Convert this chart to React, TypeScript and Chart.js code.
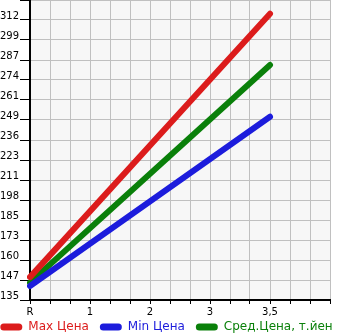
import React, { useEffect, useRef } from "react";
import { Chart, registerables } from "chart.js";

Chart.register(...registerables);

const xLabels = ["R", "", "", "1", "", "", "2", "", "", "3", "", "", "3,5", "", "", ""];
const pointCategories = ["R", "3,5"];
const maxPrice = [149, 316];
const minPrice = [143.4, 250.7];
const avgPrice = [145.5, 283.5];
const seriesNames = ["Max Цена", "Min Цена", "Сред.Цена, т.йен"];
const seriesColors = ["#dc1c1c", "#1c1cdc", "#0a800a"];
const yTickLabels = ["135", "147", "160", "173", "185", "198", "211", "223", "236", "249", "261", "274", "287", "299", "312", ""];
const yMin = 134.5;
const yStep = 12.68;

const plotBg = {
  id: "plotBg",
  beforeDraw(chart: any) {
    const { ctx, chartArea } = chart;
    ctx.save();
    ctx.fillStyle = "#f7f7f7";
    ctx.fillRect(chartArea.left, chartArea.top, chartArea.right - chartArea.left, chartArea.bottom - chartArea.top);
    ctx.restore();
  },
  afterLayout(chart: any) {
    // let the x tick labels extend below the (thin) x-axis box without clipping
    chart.scales.x.bottom = chart.height;
  },
};

export default function App() {
  const ref = useRef<HTMLCanvasElement>(null);
  useEffect(() => {
    const series = [maxPrice, minPrice, avgPrice];
    const chart = new Chart(ref.current!, {
      type: "line",
      data: {
        labels: xLabels,
        datasets: series.map((vals, i) => ({
          label: seriesNames[i],
          data: vals.map((v, j) => ({ x: pointCategories[j], y: v })),
          borderColor: seriesColors[i],
          backgroundColor: seriesColors[i],
          borderWidth: 6,
          borderCapStyle: "round" as const,
          pointRadius: 0,
          pointHoverRadius: 0,
          tension: 0,
        })),
      },
      options: {
        animation: false,
        responsive: true,
        maintainAspectRatio: false,
        layout: { padding: { left: -12, right: 0, top: 0, bottom: 0 } },
        plugins: {
          tooltip: { enabled: false },
          legend: {
            position: "bottom",
            maxHeight: 25,
            labels: {
              boxWidth: 22,
              boxHeight: 7,
              padding: 11,
              font: { family: "DejaVu Sans", size: 12 },
              generateLabels: (c: any) =>
                c.data.datasets.map((d: any, i: number) => ({
                  text: d.label,
                  fillStyle: seriesColors[i],
                  strokeStyle: seriesColors[i],
                  lineWidth: 0,
                  fontColor: seriesColors[i],
                  borderRadius: 3.5,
                  datasetIndex: i,
                  hidden: false,
                })),
              useBorderRadius: true,
            },
          },
        },
        scales: {
          x: {
            type: "category",
            offset: false,
            grid: { color: "#c0c0c0", tickColor: "#000", tickLength: 4, lineWidth: 1 },
            border: { color: "#000", width: 2 },
            ticks: {
              autoSkip: false,
              maxRotation: 0,
              padding: 2,
              color: "#000",
              font: { family: "DejaVu Sans", size: 10 },
            },
            afterFit: (s: any) => {
              s.height = 10;
              s.paddingRight = 15;
            },
          },
          y: {
            type: "linear",
            min: yMin,
            max: yMin + yStep * (yTickLabels.length - 1),
            afterBuildTicks: (s: any) => {
              s.ticks = yTickLabels.map((_, i) => ({ value: yMin + yStep * i }));
            },
            grid: { color: "#c0c0c0", tickColor: "#000", tickLength: 10, lineWidth: 1 },
            border: { color: "#000", width: 2 },
            ticks: {
              color: "#000",
              padding: 1,
              labelOffset: -4,
              font: { family: "DejaVu Sans", size: 10 },
              callback: (_v: any, i: number) => yTickLabels[i],
            },
            afterFit: (s: any) => {
              s.width = 42;
              s.paddingTop = 0;
            },
          },
        },
      },
      plugins: [plotBg],
    });
    return () => chart.destroy();
  }, []);
  return (
    <div style={{ position: "absolute", left: 0, top: 0, width: 345, height: 335 }}>
      <canvas ref={ref} />
    </div>
  );
}
